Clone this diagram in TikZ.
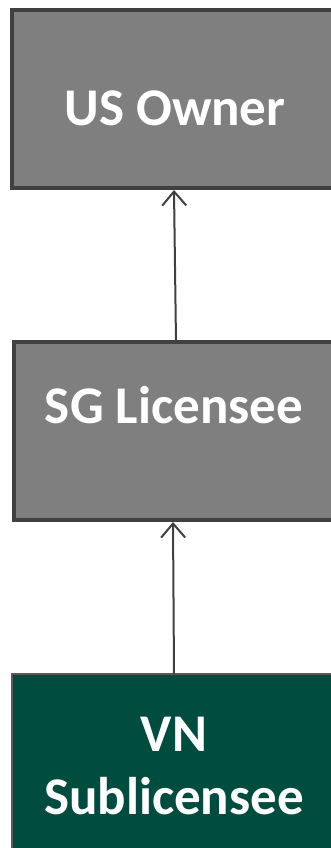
\documentclass[tikz,border=0pt]{standalone}
\usepackage{fontspec}
\setmainfont{Carlito}
\usetikzlibrary{arrows.meta}
\definecolor{boxgray}{HTML}{7F7F7F}
\definecolor{edgegray}{HTML}{404040}
\definecolor{edgegreen}{HTML}{595959}
\definecolor{boxgreen}{HTML}{004D40}
\tikzset{
  greybox/.style={draw=edgegray, line width=4.5pt, fill=boxgray},
  greenbox/.style={draw=edgegreen, line width=2.5pt, fill=boxgreen},
  boxlabel/.style={text=white, font=\bfseries\fontsize{53}{63}\selectfont, align=center, inner sep=0pt},
  link/.style={draw=edgegray, line width=2pt, -{Straight Barb[length=14pt, width=24pt, line width=2pt]}}
}
\begin{document}
\begin{tikzpicture}[x=1pt, y=-1pt]
  \useasboundingbox (0,0) rectangle (331,848);
  \begin{scope}
    \clip (0,0) rectangle (331,848);
    % three boxes, running off the right edge
    \path[greybox] (12,10) rectangle (340,188);
    \path[greybox] (14,342) rectangle (340,520);
    \path[greenbox] (12,674) rectangle (340,860);
    \coordinate (ownerB) at (174,190);
    \coordinate (licT) at (176,342);
    \coordinate (licB) at (173,522);
    \coordinate (subT) at (174,674);
  \end{scope}
  \node[boxlabel] (owner) at (175,108) {US Owner};
  \node[boxlabel] (lic) at (174,405) {SG Licensee};
  \node[boxlabel] (sub) at (174,766) {VN\\Sublicensee};
  \draw[link] (licT) -- (ownerB);
  \draw[link] (subT) -- (licB);
\end{tikzpicture}
\end{document}
